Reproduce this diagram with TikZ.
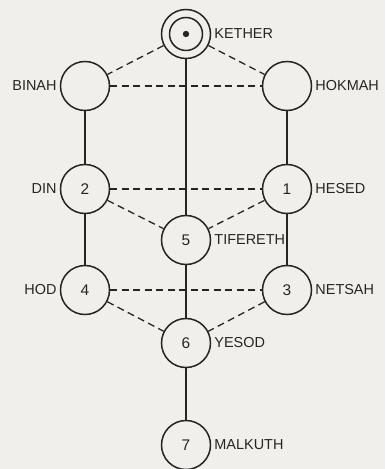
\documentclass[tikz,border=0pt]{standalone}
\usepackage{fontspec}
\setmainfont{Liberation Sans}
\definecolor{ink}{RGB}{40,36,36}
\definecolor{paper}{RGB}{240,239,235}

\begin{document}
\begin{tikzpicture}[
    x=1bp, y=-1bp,
    sefira/.style={circle, draw=ink, line width=1.5bp, minimum size=49bp, inner sep=0pt,
        font=\fontsize{15.5}{18}\selectfont, text=ink},
    tag/.style={label={[label distance=3bp, inner sep=0pt, text=ink, font=\fontsize{14.5}{17}\selectfont]#1}},
    pillar/.style={draw=ink, line width=1.3bp},
    link/.style={draw=ink, line width=1.3bp, dash pattern=on 7bp off 4.5bp}
]

% page
\fill[paper] (0,0) rectangle (385,469);
\useasboundingbox (0,0) rectangle (385,469);

% crown
\node[sefira, tag=right:KETHER] (kether) at (186,34) {};
\draw[ink, line width=1.5bp] (kether.center) circle (16.5);
\fill[ink] (kether.center) circle (3.2);

% left pillar
\node[sefira, tag=left:BINAH] (binah) at (85,86) {};
\node[sefira, tag=left:DIN] (din) at (85,189) {2};
\node[sefira, tag=left:HOD] (hod) at (85,290) {4};

% right pillar
\node[sefira, tag=right:HOKMAH] (hokmah) at (287,86) {};
\node[sefira, tag=right:HESED] (hesed) at (287,189) {1};
\node[sefira, tag=right:NETSAH] (netsah) at (287,290) {3};

% middle pillar
\node[sefira, tag=right:TIFERETH] (tifereth) at (186,240) {5};
\node[sefira, tag=right:YESOD] (yesod) at (186,343) {6};
\node[sefira, tag=right:MALKUTH] (malkuth) at (186,445) {7};

% solid paths
\draw[pillar] (kether) -- (tifereth);
\draw[pillar] (tifereth) -- (yesod);
\draw[pillar] (yesod) -- (malkuth);
\draw[pillar] (binah) -- (din);
\draw[pillar] (din) -- (hod);
\draw[pillar] (hokmah) -- (hesed);
\draw[pillar] (hesed) -- (netsah);

% dashed paths
\draw[link] (kether) -- (binah);
\draw[link] (kether) -- (hokmah);
\draw[link] (binah) -- (hokmah);
\draw[link] (din) -- (hesed);
\draw[link] (din) -- (tifereth);
\draw[link] (hesed) -- (tifereth);
\draw[link] (hod) -- (netsah);
\draw[link] (hod) -- (yesod);
\draw[link] (netsah) -- (yesod);

\end{tikzpicture}
\end{document}
